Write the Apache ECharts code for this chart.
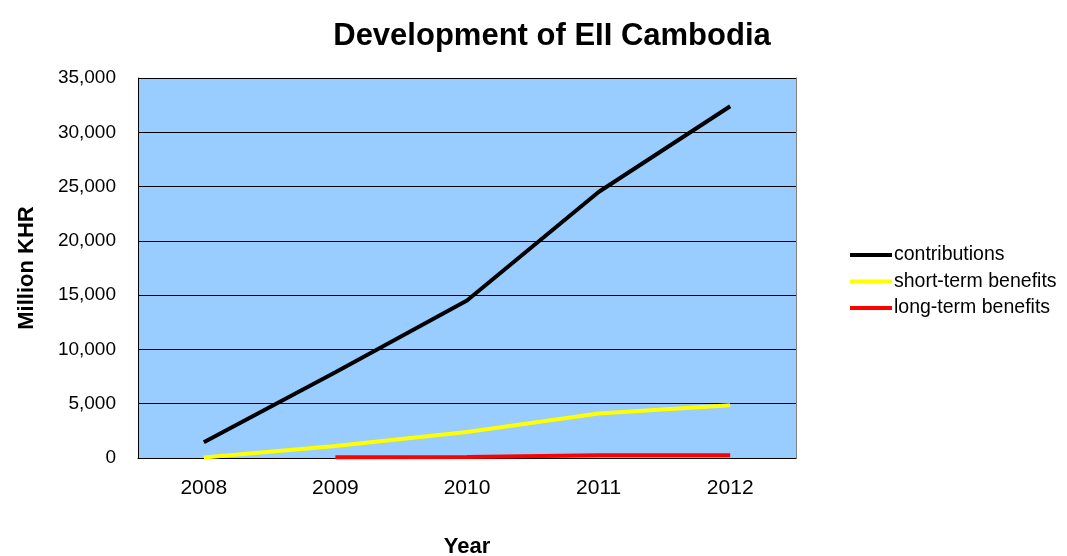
<!DOCTYPE html>
<html><head><meta charset="utf-8">
<script src="https://cdn.jsdelivr.net/npm/echarts@6/dist/echarts.min.js"></script>
<style>html,body{margin:0;padding:0;background:#fff}#c{width:1067px;height:556px}</style>
</head><body><div id="c"></div>
<script>
const categories = ['2008','2009','2010','2011','2012'];
const contributions = [1450, 7900, 14500, 24500, 32400];
const shortTerm = [50, 1100, 2400, 4100, 4850];
const longTerm = [null, 80, 100, 250, 250];
const seriesNames = ['contributions','short-term benefits','long-term benefits'];
const colors = ['#000000','#FFFF00','#FF0000'];

const chart = echarts.init(document.getElementById('c'));
const font = 'Liberation Sans, Arial, sans-serif';
chart.setOption({
  animation: false,
  title: { text: 'Development of EII Cambodia', left: 547, top: 16, textAlign: 'center',
    textStyle: { fontFamily: font, fontSize: 31, fontWeight: 'bold', color: '#000' } },
  legend: { orient: 'vertical', left: 845, top: 240, itemWidth: 42, itemHeight: 4, itemGap: 6.5,
    icon: 'rect', textStyle: { fontFamily: font, fontSize: 19.5, color: '#000', padding: [0,0,0,-3] },
    data: seriesNames },
  grid: { left: 138, right: 271, top: 78, bottom: 98, show: true, backgroundColor: '#99CCFF', borderWidth: 0,
    containLabel: false, outerBoundsMode: 'none' },
  xAxis: { type: 'category', data: categories, boundaryGap: true,
    name: 'Year', nameLocation: 'middle', nameGap: 78,
    nameTextStyle: { fontFamily: font, fontSize: 22, fontWeight: 'bold', color: '#000' },
    axisLine: { lineStyle: { color: '#000', width: 1 } },
    axisTick: { inside: true, length: 4, lineStyle: { color: '#000' } },
    axisLabel: { fontFamily: font, fontSize: 21, color: '#000', margin: 20 } },
  yAxis: [{ type: 'value', min: 0, max: 35000, interval: 5000,
    name: 'Million KHR', nameLocation: 'middle', nameGap: 100,
    nameTextStyle: { fontFamily: font, fontSize: 22, fontWeight: 'bold', color: '#000' },
    axisLine: { show: true, lineStyle: { color: '#000', width: 1 } },
    axisTick: { show: true, inside: true, length: 4, lineStyle: { color: '#000' } },
    splitLine: { lineStyle: { color: '#000', width: 1 } },
    axisLabel: { fontFamily: font, fontSize: 19, color: '#000', margin: 22,
      formatter: v => v.toLocaleString('en-US') } },
    { type: 'value', min: 0, max: 35000, interval: 5000, position: 'right',
      axisLine: { show: true, lineStyle: { color: '#808080' } }, axisTick: { show: false },
      axisLabel: { show: false }, splitLine: { show: false } }],
  series: [
    { name: seriesNames[0], type: 'line', data: contributions, symbol: 'none', lineStyle: { color: colors[0], width: 4 }, itemStyle: { color: colors[0] } },
    { name: seriesNames[1], type: 'line', data: shortTerm, symbol: 'none', lineStyle: { color: colors[1], width: 4 }, itemStyle: { color: colors[1] } },
    { name: seriesNames[2], type: 'line', data: longTerm, symbol: 'none', lineStyle: { color: colors[2], width: 4 }, itemStyle: { color: colors[2] } }
  ]
});
</script></body></html>
